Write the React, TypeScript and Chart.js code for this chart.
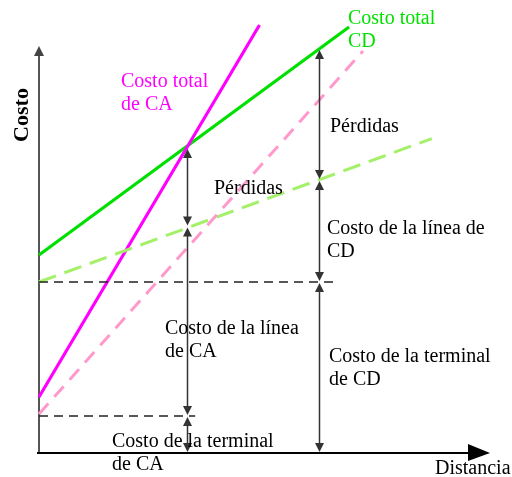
import React, { useEffect, useRef } from "react";
import { Chart, registerables } from "chart.js";

Chart.register(...registerables);

// Distance (x) and cost (y) values, in arbitrary units
const caTotalX = [0, 49];
const caTotalY = [14, 107];
const cdTotalX = [0, 68.9];
const cdTotalY = [49.5, 106.5];
const caLineX = [0, 72];
const caLineY = [9.75, 100.5];
const cdLineX = [0, 87.3];
const cdLineY = [42.75, 78.6];
const cdTerminalX = [0, 65.5];
const cdTerminalY = [42.75, 42.75];
const caTerminalX = [0, 34.7];
const caTerminalY = [9.25, 9.25];

// Dimension arrows: position on the distance axis and the cost levels they span
const caArrowX = 32.9;
const caArrowLevels = [76.25, 56.6, 9.25, 0];
const cdArrowX = 62.2;
const cdArrowLevels = [101, 68.25, 42.75, 0];

const toPts = (xs: number[], ys: number[]) => xs.map((x, i) => ({ x, y: ys[i] }));

const FONT = '"Liberation Serif", "Times New Roman", serif';

const labels: { lines: string[]; x: number; y: number; color: string }[] = [
  { lines: ["Costo total", "de CA"], x: 121, y: 82, color: "#ff00ff" },
  { lines: ["Costo total", "CD"], x: 348, y: 19, color: "#00e000" },
  { lines: ["Pérdidas"], x: 214, y: 189, color: "#000" },
  { lines: ["Pérdidas"], x: 330, y: 127, color: "#000" },
  { lines: ["Costo de la línea de", "CD"], x: 327, y: 229, color: "#000" },
  { lines: ["Costo de la línea", "de CA"], x: 165, y: 329, color: "#000" },
  { lines: ["Costo de la terminal", "de CD"], x: 329, y: 357, color: "#000" },
  { lines: ["Costo de la terminal", "de CA"], x: 112, y: 442, color: "#000" },
  { lines: ["Distancia"], x: 435, y: 469, color: "#000" },
];

function arrowHead(ctx: CanvasRenderingContext2D, x: number, y: number, dir: number) {
  ctx.beginPath();
  ctx.moveTo(x, y);
  ctx.lineTo(x - 4.5, y - dir * 9);
  ctx.lineTo(x + 4.5, y - dir * 9);
  ctx.closePath();
  ctx.fill();
}

const diagramPlugin = {
  id: "diagram",
  beforeDatasetsDraw(chart: any) {
    const ctx: CanvasRenderingContext2D = chart.ctx;
    const xs = chart.scales.x;
    const ys = chart.scales.y;
    const x0 = xs.getPixelForValue(0);
    const y0 = ys.getPixelForValue(0);
    ctx.save();
    ctx.strokeStyle = "#555";
    ctx.fillStyle = "#444";
    ctx.lineWidth = 2;
    ctx.beginPath();
    ctx.moveTo(x0, y0);
    ctx.lineTo(x0, 54);
    ctx.stroke();
    ctx.beginPath();
    ctx.moveTo(x0, 46);
    ctx.lineTo(x0 - 5, 56);
    ctx.lineTo(x0 + 5, 56);
    ctx.closePath();
    ctx.fill();
    ctx.strokeStyle = "#000";
    ctx.fillStyle = "#000";
    ctx.beginPath();
    ctx.moveTo(x0 - 2, y0);
    ctx.lineTo(470, y0);
    ctx.stroke();
    ctx.beginPath();
    ctx.moveTo(490, y0);
    ctx.lineTo(468, y0 - 9);
    ctx.lineTo(468, y0 + 8);
    ctx.closePath();
    ctx.fill();
    ctx.restore();
  },
  afterDatasetsDraw(chart: any) {
    const ctx: CanvasRenderingContext2D = chart.ctx;
    const xs = chart.scales.x;
    const ys = chart.scales.y;
    ctx.save();
    ctx.strokeStyle = "#333";
    ctx.fillStyle = "#333";
    ctx.lineWidth = 1.5;
    const drawStack = (xv: number, levels: number[]) => {
      const px = Math.round(xs.getPixelForValue(xv)) + 0.5;
      for (let i = 0; i < levels.length - 1; i++) {
        const top = ys.getPixelForValue(levels[i]) + 1;
        const bot = ys.getPixelForValue(levels[i + 1]) - 1;
        ctx.beginPath();
        ctx.moveTo(px, top + 4);
        ctx.lineTo(px, bot - 4);
        ctx.stroke();
        arrowHead(ctx, px, top, -1);
        arrowHead(ctx, px, bot, 1);
      }
    };
    drawStack(caArrowX, caArrowLevels);
    drawStack(cdArrowX, cdArrowLevels);

    ctx.textBaseline = "middle";
    ctx.textAlign = "left";
    ctx.font = `20px ${FONT}`;
    for (const l of labels) {
      ctx.fillStyle = l.color;
      l.lines.forEach((t, i) => ctx.fillText(t, l.x, l.y + i * 23));
    }
    ctx.save();
    ctx.translate(22, 115);
    ctx.rotate(-Math.PI / 2);
    ctx.textAlign = "center";
    ctx.font = `bold 22px ${FONT}`;
    ctx.fillStyle = "#000";
    ctx.fillText("Costo", 0, 0);
    ctx.restore();
    ctx.restore();
  },
};

export default function App() {
  const ref = useRef<HTMLCanvasElement | null>(null);
  useEffect(() => {
    if (!ref.current) return;
    const mk = (data: any[], color: string, width: number, dash: number[] = []) => ({
      data,
      borderColor: color,
      backgroundColor: color,
      borderWidth: width,
      borderDash: dash,
      showLine: true,
      pointRadius: 0,
      fill: false,
      clip: false as any,
    });
    const chart = new Chart(ref.current, {
      type: "scatter",
      data: {
        datasets: [
          mk(toPts(cdTerminalX, cdTerminalY), "#222", 1.5, [9, 6]),
          mk(toPts(caTerminalX, caTerminalY), "#222", 1.5, [9, 6]),
          mk(toPts(caLineX, caLineY), "#ff99cc", 3, [14, 9]),
          mk(toPts(cdLineX, cdLineY), "#a4f06a", 3, [18, 9]),
          mk(toPts(caTotalX, caTotalY), "#ff00ff", 3.2),
          mk(toPts(cdTotalX, cdTotalY), "#00e000", 3.2),
        ],
      },
      options: {
        responsive: false,
        animation: false,
        layout: { padding: { left: 39, right: 23, top: 13, bottom: 24 } },
        plugins: { legend: { display: false }, tooltip: { enabled: false } },
        scales: {
          x: { type: "linear", min: 0, max: 100, display: false },
          y: { type: "linear", min: 0, max: 110, display: false },
        },
      },
      plugins: [diagramPlugin],
    });
    return () => chart.destroy();
  }, []);
  return (
    <div style={{ position: "absolute", left: 0, top: 0, width: 512, height: 477, background: "#fff" }}>
      <canvas ref={ref} width={512} height={477} />
    </div>
  );
}
